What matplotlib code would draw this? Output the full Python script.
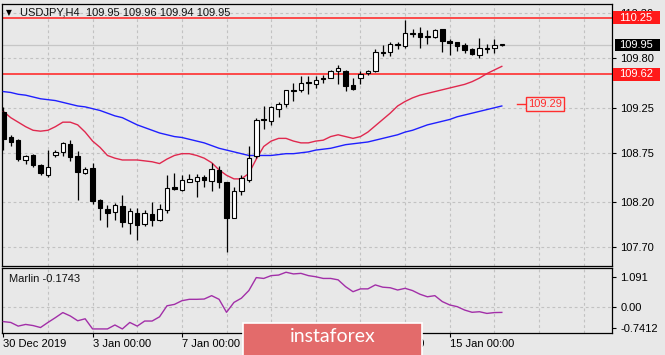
import matplotlib
matplotlib.use('Agg')
import matplotlib.pyplot as plt
from matplotlib.patches import Rectangle
from matplotlib.transforms import blended_transform_factory
import numpy as np

# ---------------- data ----------------
opens = [109.20, 108.92, 108.89, 108.67, 108.73, 108.61, 108.50, 108.72, 108.76, 108.85,
         108.71, 108.53, 108.58, 108.23, 108.13, 108.09, 108.16, 107.97, 108.08, 107.96,
         108.07, 108.00, 108.11, 108.37, 108.34, 108.43, 108.44, 108.48, 108.44, 108.56,
         108.42, 108.02, 108.33, 108.45, 108.71, 109.125, 109.10, 109.24, 109.29, 109.45,
         109.45, 109.53, 109.51, 109.58, 109.585, 109.66, 109.66, 109.50, 109.58, 109.635,
         109.66, 109.87, 109.87, 109.95, 109.94, 110.08, 110.085, 110.04, 110.04, 110.125,
         109.98, 109.98, 109.95, 109.90, 109.84, 109.90, 109.91, 109.95]
highs = [109.26, 108.95, 108.90, 108.73, 108.74, 108.62, 108.78, 108.78, 108.87, 108.89,
         108.77, 108.59, 108.64, 108.24, 108.17, 108.19, 108.28, 108.14, 108.14, 108.11,
         108.20, 108.18, 108.50, 108.53, 108.50, 108.51, 108.51, 108.50, 108.64, 108.60,
         108.43, 108.37, 108.50, 108.83, 109.14, 109.27, 109.27, 109.31, 109.45, 109.52,
         109.60, 109.60, 109.60, 109.61, 109.67, 109.72, 109.67, 109.58, 109.66, 109.67,
         109.90, 109.95, 109.985, 109.985, 110.23, 110.13, 110.15, 110.11, 110.13, 110.13,
         110.01, 109.985, 109.97, 109.91, 110.02, 109.96, 110.01, 109.96]
lows = [108.78, 108.83, 108.66, 108.63, 108.59, 108.50, 108.48, 108.70, 108.71, 108.66,
        108.22, 108.51, 108.18, 108.00, 107.92, 108.00, 107.92, 107.85, 107.78, 107.94,
        107.94, 107.99, 108.08, 108.34, 108.32, 108.43, 108.26, 108.37, 108.33, 108.36,
        107.65, 108.02, 108.28, 108.43, 108.69, 109.01, 109.06, 109.15, 109.26, 109.33,
        109.43, 109.40, 109.47, 109.52, 109.58, 109.515, 109.44, 109.45, 109.515, 109.61,
        109.65, 109.83, 109.82, 109.90, 109.91, 110.04, 109.91, 109.96, 110.03, 109.87,
        109.84, 109.885, 109.855, 109.835, 109.80, 109.86, 109.86, 109.94]
closes = [108.90, 108.87, 108.68, 108.71, 108.61, 108.52, 108.59, 108.76, 108.86, 108.70,
          108.54, 108.57, 108.21, 108.14, 108.08, 108.17, 107.98, 108.10, 107.95, 108.08,
          108.00, 108.13, 108.36, 108.35, 108.45, 108.46, 108.48, 108.45, 108.57, 108.42,
          108.03, 108.32, 108.47, 108.69, 109.11, 109.11, 109.26, 109.29, 109.45, 109.44,
          109.53, 109.52, 109.56, 109.57, 109.66, 109.69, 109.49, 109.46, 109.62, 109.66,
          109.87, 109.86, 109.955, 109.96, 110.08, 110.07, 110.04, 110.045, 110.11, 109.99,
          109.975, 109.94, 109.89, 109.845, 109.91, 109.91, 109.95, 109.95]

ma_red = [109.21, 109.14, 109.09, 109.04, 109.00, 108.99, 109.00, 109.04, 109.09, 109.09,
          109.06, 108.98, 108.88, 108.81, 108.72, 108.69, 108.67, 108.67, 108.67, 108.66,
          108.65, 108.63, 108.68, 108.72, 108.74, 108.74, 108.72, 108.69, 108.64, 108.56,
          108.50, 108.46, 108.46, 108.52, 108.68, 108.82, 108.88, 108.91, 108.91, 108.88,
          108.86, 108.86, 108.88, 108.89, 108.93, 108.95, 108.93, 108.91, 108.93, 108.98,
          109.05, 109.12, 109.19, 109.27, 109.32, 109.36, 109.39, 109.41, 109.43, 109.45,
          109.47, 109.49, 109.51, 109.54, 109.58, 109.63, 109.67, 109.71]
ma_blue = [109.43, 109.42, 109.40, 109.39, 109.37, 109.35, 109.34, 109.33, 109.31, 109.29,
           109.27, 109.26, 109.24, 109.22, 109.19, 109.16, 109.14, 109.10, 109.06, 109.03,
           109.00, 108.97, 108.95, 108.93, 108.92, 108.90, 108.88, 108.86, 108.83, 108.80,
           108.78, 108.76, 108.74, 108.72, 108.72, 108.72, 108.72, 108.73, 108.74, 108.74,
           108.75, 108.76, 108.78, 108.79, 108.80, 108.82, 108.84, 108.85, 108.86, 108.87,
           108.89, 108.91, 108.93, 108.95, 108.98, 109.00, 109.03, 109.06, 109.08, 109.10,
           109.12, 109.15, 109.17, 109.19, 109.21, 109.23, 109.25, 109.27]
marlin = [-0.50, -0.53, -0.66, -0.60, -0.64, -0.71, -0.53, -0.36, -0.18, -0.30,
          -0.47, -0.40, -0.76, -0.76, -0.76, -0.62, -0.76, -0.53, -0.66, -0.48,
          -0.48, -0.33, 0.06, 0.11, 0.24, 0.29, 0.29, 0.30, 0.42, 0.29,
          -0.17, 0.18, 0.33, 0.60, 1.06, 1.03, 1.13, 1.15, 1.25, 1.19,
          1.21, 1.13, 1.09, 1.03, 1.03, 0.98, 0.74, 0.56, 0.66, 0.66,
          0.80, 0.72, 0.70, 0.62, 0.68, 0.60, 0.47, 0.38, 0.42, 0.21,
          0.09, 0.03, -0.09, -0.17, -0.15, -0.21, -0.18, -0.1743]

price_ticks = [107.70, 108.20, 108.75, 109.25, 109.80, 110.30]
price_tick_labels = ['107.70', '108.20', '108.75', '109.25', '109.80', '110.30']
marlin_ticks = [-0.7412, 0.0, 1.091]
marlin_tick_labels = ['-0.7412', '0.00', '1.091']
date_idx = [0, 12, 24, 36, 48, 60]
date_labels = ['30 Dec 2019', '3 Jan 00:00', '7 Jan 00:00', '9 Jan 00:00',
               '13 Jan 00:00', '15 Jan 00:00']
level_values = [110.25, 109.62]
level_labels = ['110.25', '109.62']
bid_value = 109.95
bid_label = '109.95'
target_value = 109.29
target_label = '109.29'
title_text = 'USDJPY,H4  109.95 109.96 109.94 109.95'
marlin_text = 'Marlin -0.1743'
watermark_text = 'instaforex'

# ---------------- style ----------------
W, H = 665, 355
BG = '#e8e8e8'
GRID = '#c2c2c2'
RED = '#ff2e2e'
FONT = ['Liberation Sans', 'DejaVu Sans']
plt.rcParams['font.family'] = FONT
plt.rcParams['font.size'] = 8

fig = plt.figure(figsize=(W / 100, H / 100), dpi=100, facecolor=BG)


def px_axes(l, t, r, b):
    a = fig.add_axes([l / W, 1 - b / H, (r - l) / W, (b - t) / H])
    a.set_facecolor(BG)
    for s in a.spines.values():
        s.set_color('black')
        s.set_linewidth(0.9)
    return a


ax = px_axes(2, 4, 612, 266)
ax2 = px_axes(2, 268, 612, 333)

XMIN, XMAX = -0.175, 81.81
for a in (ax, ax2):
    a.set_xlim(XMIN, XMAX)
    for k in range(6, 82, 6):
        a.axvline(k, color=GRID, ls=(0, (2.5, 2.5)), lw=0.8, zorder=0)

# ---------------- main price panel ----------------
ax.set_ylim(107.492, 110.403)
ax.set_yticks(price_ticks)
ax.set_yticklabels(price_tick_labels)
ax.yaxis.tick_right()
ax.tick_params(axis='y', length=3, width=0.8, pad=3, labelsize=8, colors='black')
ax.tick_params(axis='x', bottom=False, labelbottom=False)
for v in price_ticks:
    ax.axhline(v, color=GRID, ls=(0, (2.5, 2.5)), lw=0.8, zorder=0)

o = np.array(opens); h = np.array(highs); l = np.array(lows); c = np.array(closes)
idx = np.arange(len(o))
up = c >= o
bottom = np.minimum(o, c)
height = np.maximum(np.abs(c - o), 0.012)

ax.axhline(bid_value, color='#c6c6c6', lw=0.9, zorder=1)
for v in level_values:
    ax.axhline(v, color=RED, lw=1.2, zorder=2)

ax.plot(idx, ma_blue, color='#1f1fff', lw=1.0, zorder=2.6)
ax.plot(idx, ma_red, color='#e0284e', lw=1.0, zorder=2.6)

ax.vlines(idx, l, h, color='black', lw=0.9, zorder=3)
ax.bar(idx[up], height[up], bottom=bottom[up], width=0.6, color='white',
       edgecolor='black', linewidth=0.8, zorder=4)
ax.bar(idx[~up], height[~up], bottom=bottom[~up], width=0.6, color='black',
       edgecolor='black', linewidth=0.8, zorder=4)

# target label inside the chart
ax.plot([69.0, 70.3], [target_value, target_value], color=RED, lw=1.0, zorder=5)
ax.text(70.55, target_value, target_label, ha='left', va='center', color=RED,
        fontsize=8, zorder=6,
        bbox=dict(boxstyle='square,pad=0.18', fc=BG, ec=RED, lw=1.0))

# right-side price boxes
tr = blended_transform_factory(ax.transAxes, ax.transData)
ppx = (110.403 - 107.492) / 262.0
axw = 610.0
for v, lab in zip(level_values, level_labels):
    ax.add_patch(Rectangle((1 + 1 / axw, v - 6.5 * ppx), 47 / axw, 13 * ppx,
                           transform=tr, fc='#ff1a1a', ec='none', clip_on=False, zorder=6))
    ax.text(1 + 7 / axw, v, lab, transform=tr, ha='left', va='center', color='white',
            fontsize=8, clip_on=False, zorder=7)
ax.add_patch(Rectangle((1 + 3 / axw, bid_value - 6 * ppx), 45 / axw, 12 * ppx,
                       transform=tr, fc='black', ec='none', clip_on=False, zorder=6))
ax.text(1 + 7 / axw, bid_value, bid_label, transform=tr, ha='left', va='center',
        color='white', fontsize=8, clip_on=False, zorder=7)

# title
fig.text(6 / W, 1 - 12.5 / H, '\u25BC', fontsize=5.5, family='DejaVu Sans',
         ha='left', va='center', color='black')
fig.text(20 / W, 1 - 12.5 / H, title_text, fontsize=8, ha='left', va='center',
         color='#111111')

# ---------------- Marlin panel ----------------
ax2.set_ylim(-0.904, 1.40)
ax2.set_yticks(marlin_ticks)
ax2.set_yticklabels(marlin_tick_labels)
ax2.yaxis.tick_right()
ax2.tick_params(axis='y', length=3, width=0.8, pad=3, labelsize=8, colors='black')
ax2.axhline(0.0, color=GRID, ls=(0, (2.5, 2.5)), lw=0.8, zorder=0)
ax2.plot(idx, marlin, color='#a22fa8', lw=1.0, zorder=3)
ax2.text(7 / 610, (333 - 278.5) / 65, marlin_text, transform=ax2.transAxes,
         ha='left', va='center', fontsize=8, color='#111111')

ax2.set_xticks(date_idx)
ax2.set_xticklabels(date_labels, ha='left')
ax2.tick_params(axis='x', length=3, width=0.8, pad=1.5, labelsize=8, colors='black')

# ---------------- watermark ----------------
fig.add_artist(Rectangle((243 / W, -0.02), (422 - 243) / W, (355 - 323) / H + 0.02,
                         transform=fig.transFigure, fc='#e36b6b', ec='white', lw=1.2,
                         zorder=10))
fig.text(332.5 / W, 1 - 336.5 / H, watermark_text, fontsize=14, family=['Lato', 'DejaVu Sans'],
         color='white', ha='center', va='center', zorder=11)

fig.savefig('out.png', dpi=100, facecolor=BG)
